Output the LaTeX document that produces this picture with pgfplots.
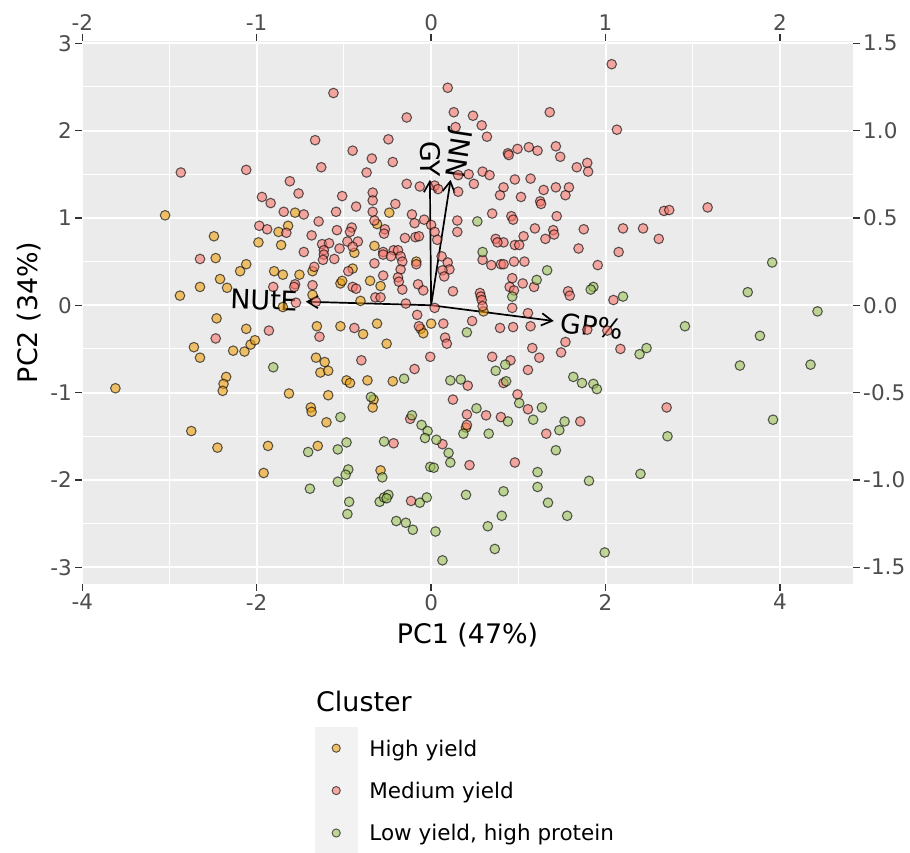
\documentclass[border=0pt]{standalone}
\usepackage{fontspec}
\setmainfont{DejaVu Sans}
\usepackage{pgfplots}
\pgfplotsset{compat=1.18}
\usetikzlibrary{arrows.meta}
\definecolor{panelbg}{HTML}{EBEBEB}
\definecolor{keybg}{HTML}{F2F2F2}
\definecolor{ticktext}{HTML}{4D4D4D}
\definecolor{tickmark}{HTML}{333333}
\definecolor{hcol}{HTML}{F0A010}
\definecolor{mcol}{HTML}{F8766D}
\definecolor{gcol}{HTML}{9DC35A}
\newcommand{\tickfont}{\fontsize{21.5pt}{25pt}\selectfont}
\newcommand{\titfont}{\fontsize{26.9pt}{31pt}\selectfont}
\pgfplotsset{
  pts/.style={only marks, mark=*, mark size=4.8pt,
    mark options={draw=black, draw opacity=0.62, fill=#1, fill opacity=0.6, line width=1.05pt},
    legend image code/.code={
      \fill[keybg] (-21pt,-21pt) rectangle (21pt,21pt);
      \draw[draw=black, draw opacity=0.62, fill=#1, fill opacity=0.6, line width=0.95pt] (0pt,0pt) circle (4.1pt);}},
  common/.style={width=771pt, height=543.3pt, scale only axis,
    axis line style={draw=none},
    tick align=outside, major tick length=6.7pt, minor tick length=0pt,
    tick style={draw=tickmark, line width=1.4pt},
    ticklabel style={font=\tickfont, text=ticktext}}
}
\begin{document}
\begin{tikzpicture}
\begin{axis}[common,
  xmin=-4.003, xmax=4.837, ymin=-3.191, ymax=3.029,
  clip=false,
  axis background/.style={fill=panelbg},
  xtick={-4,-2,0,2,4}, xticklabels={-4,-2,0,2,4},
  ytick={-3,-2,-1,0,1,2,3}, yticklabels={-3,-2,-1,0,1,2,3},
  minor xtick={-3,-1,1,3},
  minor ytick={-2.5,-1.5,-0.5,0.5,1.5,2.5},
  xtick pos=left, ytick pos=left,
  grid=both,
  major grid style={draw=white, line width=1.9pt},
  minor grid style={draw=white, line width=1pt},
  xlabel={PC1 (47\%)}, ylabel={PC2 (34\%)},
  xlabel style={font=\titfont, at={(axis description cs:0.5,-0.1104)}, anchor=base},
  ylabel style={font=\titfont, at={(axis description cs:-0.0577,0.5)}, anchor=base, rotate=0},
  legend style={at={(axis description cs:0,0)}, anchor=north west, xshift=233pt, yshift=-143pt,
    draw=none, fill=none, inner sep=0pt, outer sep=0pt, row sep=0pt, column sep=12pt,
    font=\tickfont, cells={anchor=west}, nodes={inner sep=0pt, text height=15.7pt, text depth=0pt}},
]
\coordinate (sw) at (rel axis cs:0,0);
% High yield
\addplot[pts=hcol] coordinates {
(-3.05,1.03) (-1.56,1.06) (-1.64,0.91) (-1.75,0.84) (-2.49,0.79) (-1.98,0.72) (-1.72,0.69)
(-2.47,0.54) (-2.12,0.47) (-2.19,0.39) (-1.36,0.39) (-1.80,0.39) (-1.70,0.35) (-1.51,0.35)
(-2.42,0.30) (-2.65,0.21) (-2.34,0.20) (-1.04,0.25) (-1.02,0.28) (-2.88,0.11) (-1.36,0.12)
(-0.48,1.06) (-0.62,0.93) (-0.88,0.60) (-0.65,0.68) (-0.17,0.50) (-0.90,0.42) (-0.70,0.28)
(-0.58,0.22) (-0.81,0.05)
(-1.70,-0.02) (-2.46,-0.15) (-2.12,-0.27) (-1.31,-0.24) (-1.04,-0.24) (-2.72,-0.48) (-2.65,-0.60)
(-2.27,-0.52) (-2.14,-0.53) (-2.07,-0.45) (-2.02,-0.40) (-1.32,-0.60) (-1.22,-0.65) (-1.27,-0.77)
(-1.18,-0.75) (-3.62,-0.95) (-2.35,-0.82) (-2.38,-0.90) (-2.39,-0.98) (-1.63,-1.01) (-1.18,-1.03)
(-1.38,-1.17) (-1.37,-1.22) (-1.20,-1.34) (-2.75,-1.44) (-2.45,-1.63) (-1.87,-1.61) (-1.30,-1.61)
(-1.92,-1.92)
(0.60,-0.07) (-0.78,-0.33) (-0.62,-0.21) (-0.51,-0.44) (-0.12,-0.27) (-0.09,-0.32) (0.00,-0.21)
(-0.44,-0.87) (-0.73,-0.86) (-0.97,-0.86) (-0.93,-0.89) (-0.66,-1.08) (-0.67,-1.17) (-0.58,-1.89)
(0.40,-1.40)
};
\addlegendentry{High yield}
% Medium yield
\addplot[pts=mcol] coordinates {
(-1.12,2.43) (-1.33,1.89) (-1.26,1.58) (-2.87,1.52) (-2.12,1.55) (-1.62,1.42) (-1.52,1.28)
(-1.02,1.25) (-1.94,1.24) (-1.84,1.17) (-1.69,1.07) (-1.46,1.04) (-1.29,0.96) (-1.09,1.07)
(-1.97,0.91) (-1.88,0.87) (-1.66,0.83) (-1.37,0.80) (-1.08,0.86) (-1.25,0.70) (-1.17,0.71)
(-1.23,0.63) (-1.05,0.65) (-1.23,0.58) (-1.46,0.61) (-1.11,0.53) (-1.24,0.52) (-2.65,0.53)
(-1.34,0.44) (-1.81,0.21) (-1.56,0.24) (-1.57,0.21) (-1.36,0.23) (-1.55,0.03) (-1.32,0.04)
(0.19,2.49) (0.26,2.21) (0.48,2.17) (1.36,2.21) (-0.28,2.15) (0.28,2.04) (0.58,2.06)
(0.64,1.93) (-0.49,1.90) (-0.90,1.77) (0.99,1.79) (1.12,1.81) (1.22,1.77) (1.43,1.82)
(0.88,1.74) (0.89,1.72) (1.48,1.70) (-0.68,1.68) (-0.44,1.64) (1.67,1.58) (1.79,1.63)
(1.80,1.53) (-0.74,1.52) (0.31,1.49) (0.43,1.50) (0.59,1.53) (0.67,1.49) (-0.28,1.39)
(-0.13,1.36) (0.04,1.37) (0.08,1.33) (0.31,1.30) (0.49,1.39) (0.83,1.35) (0.96,1.44)
(1.14,1.45) (0.79,1.26) (1.03,1.24) (1.29,1.32) (1.43,1.35) (1.58,1.35) (1.54,1.26)
(1.25,1.19) (1.26,1.16) (-0.67,1.29) (-0.67,1.20) (-0.86,1.13) (-0.41,1.16) (-0.67,1.07)
(-0.22,1.04) (0.70,1.05) (0.92,1.02) (0.94,0.98) (1.44,1.02) (-0.65,0.97) (-0.19,0.94)
(-0.08,0.98) (0.00,0.92) (0.04,0.84) (0.30,0.97) (0.30,0.84) (1.19,0.88) (1.75,0.87)
(-0.91,0.89) (-0.93,0.84) (-0.53,0.87) (-0.54,0.82) (-0.96,0.73) (-0.84,0.73) (-0.90,0.67)
(-0.30,0.77) (-0.18,0.78) (-0.14,0.79) (0.07,0.75) (0.74,0.76) (0.83,0.72) (0.76,0.72)
(1.06,0.79) (1.31,0.76) (1.40,0.86) (1.41,0.81) (0.96,0.69) (1.01,0.69) (1.69,0.65)
(1.91,0.46) (-0.43,0.63) (-0.38,0.63) (-0.35,0.56) (-0.55,0.61) (-0.55,0.58) (-0.46,0.56)
(-0.33,0.50) (-0.35,0.41) (-0.65,0.48) (-0.17,0.47) (0.12,0.56) (0.19,0.49) (0.21,0.41)
(0.13,0.40) (0.15,0.33) (0.59,0.52) (0.69,0.46) (0.80,0.47) (0.83,0.47) (0.95,0.50)
(1.07,0.50) (-0.95,0.39) (-0.55,0.34) (-0.38,0.32) (-0.37,0.27) (-0.33,0.18) (-0.15,0.24)
(-0.09,0.17) (-0.90,0.21) (-0.86,0.19) (0.93,0.31) (1.05,0.25) (0.90,0.21) (0.95,0.17)
(1.18,0.21) (1.57,0.16) (1.59,0.11) (0.25,0.16) (0.56,0.14) (0.57,0.10) (0.58,0.06)
(-0.64,0.09) (-0.58,0.09) (-0.29,0.02)
(2.07,2.76) (2.13,2.01) (2.67,1.08) (2.73,1.09) (3.17,1.12) (2.20,0.88) (2.43,0.88)
(2.61,0.76) (2.15,0.61) (2.09,0.06)
(0.04,-0.03) (0.59,-0.01) (0.93,-0.03) (1.11,-0.09) (-0.16,-0.11) (-0.88,-0.26) (-0.14,-0.24)
(0.14,-0.21) (0.16,-0.37) (0.18,-0.44) (-0.01,-0.59) (-0.19,-0.73) (-0.80,-0.63) (-0.43,-1.58)
(-0.24,-1.30) (0.13,-1.59) (0.44,-1.83) (0.96,-1.80) (0.42,-0.92) (0.41,-1.25) (0.63,-1.26)
(0.41,-1.37) (0.80,-1.28) (0.83,-0.89) (0.91,-0.63) (0.70,-0.59) (0.47,-0.18) (0.79,-0.26)
(0.94,-0.25) (1.14,-0.24) (1.16,-0.49) (1.24,-0.60) (1.11,-0.74) (1.49,-0.54) (1.54,-0.42)
(1.79,-0.28) (0.99,-1.02) (1.11,-1.19) (1.71,-1.33) (1.32,-1.47) (-0.23,-2.24) (0.25,-1.08)
(-1.86,-0.29) (-1.28,-0.36) (-2.47,-0.38)
(2.02,-0.29) (2.17,-0.50) (2.70,-1.17)
};
\addlegendentry{Medium yield}
% Low yield, high protein
\addplot[pts=gcol] coordinates {
(0.53,0.96) (0.59,0.61) (1.33,0.40) (1.21,0.29) (0.93,0.10) (1.86,0.21) (1.83,0.18)
(3.91,0.49) (3.63,0.15) (2.20,0.10)
(-1.81,-0.71) (-1.04,-1.28) (-1.41,-1.68) (-1.07,-1.65) (-1.39,-2.10) (-1.07,-2.02)
(-0.31,-0.84) (-0.69,-1.05) (-0.97,-1.57) (-0.54,-1.56) (-0.22,-1.26) (-0.11,-1.37) (-0.04,-1.44)
(-0.07,-1.52) (0.06,-1.54) (0.20,-1.69) (0.22,-1.80) (-0.01,-1.85) (0.03,-1.86) (-0.95,-1.88)
(-0.98,-1.94) (-0.56,-1.97) (0.22,-0.86) (0.34,-0.85) (0.52,-1.18) (0.37,-1.47) (0.66,-1.47)
(0.88,-1.33) (0.74,-0.75) (0.85,-0.68) (0.86,-0.87) (0.41,-0.31) (1.01,-1.12) (1.27,-1.17)
(1.17,-1.31) (1.63,-0.82) (1.73,-0.89) (1.86,-0.90) (1.90,-0.96) (1.53,-1.33) (1.47,-1.43)
(1.43,-1.66) (1.22,-1.91) (1.22,-2.08) (1.34,-2.26) (1.56,-2.41) (1.81,-2.01) (0.83,-2.13)
(0.81,-2.41) (0.65,-2.53) (0.73,-2.79) (0.40,-2.17) (0.05,-2.59) (0.13,-2.92) (-0.40,-2.47)
(-0.29,-2.49) (-0.21,-2.57) (-0.13,-2.26) (-0.05,-2.20) (-0.59,-2.25) (-0.54,-2.20) (-0.49,-2.17)
(-0.51,-2.21) (-0.94,-2.25) (-0.96,-2.39)
(4.43,-0.07) (2.91,-0.24) (3.77,-0.35) (2.39,-0.56) (2.47,-0.49) (3.54,-0.69) (4.35,-0.68)
(3.92,-1.31) (2.71,-1.50) (2.40,-1.93) (1.99,-2.83)
};
\addlegendentry{Low yield, high protein}
% loading arrows
\addplot[forget plot, black, line width=1.7pt, -{Straight Barb[length=10.6pt, width=12.3pt]}] coordinates {(0,0) (1.406,-0.18)};
\addplot[forget plot, black, line width=1.7pt, -{Straight Barb[length=10.6pt, width=12.3pt]}] coordinates {(0,0) (-1.437,0.041)};
\addplot[forget plot, black, line width=1.7pt, -{Straight Barb[length=10.6pt, width=12.3pt]}] coordinates {(0,0) (-0.014,1.436)};
\addplot[forget plot, black, line width=1.7pt, -{Straight Barb[length=10.6pt, width=12.3pt]}] coordinates {(0,0) (0.223,1.436)};
\node[font=\titfont, rotate=-2, inner sep=0pt] at (axis cs:-1.91,0.06) {NUtE};
\node[font=\titfont, rotate=-7, inner sep=0pt] at (axis cs:1.84,-0.24) {GP\%};
\node[font=\titfont, rotate=-89.4, inner sep=0pt] at (axis cs:-0.006,1.675) {GY};
\node[font=\titfont, rotate=-98.8, inner sep=0pt] at (axis cs:0.29,1.74) {JNN};
\node[font=\titfont, anchor=base west, inner sep=0pt, xshift=234pt, yshift=-127.7pt] at (axis description cs:0,0) {Cluster};
\end{axis}
\begin{axis}[common,
  xmin=-2.0015, xmax=2.4185, ymin=-1.5955, ymax=1.5145,
  xtick={-2,-1,0,1,2}, xticklabels={-2,-1,0,1,2},
  ytick={-1.5,-1,-0.5,0,0.5,1,1.5}, yticklabels={-1.5,-1.0,-0.5,0.0,0.5,1.0,1.5},
  xtick pos=right, ytick pos=right, xticklabel pos=right, yticklabel pos=right,
]
\end{axis}
\pgfresetboundingbox
\path[use as bounding box] ([xshift=-82pt,yshift=-269pt]sw) rectangle ([xshift=828pt,yshift=584pt]sw);
\end{tikzpicture}
\end{document}
